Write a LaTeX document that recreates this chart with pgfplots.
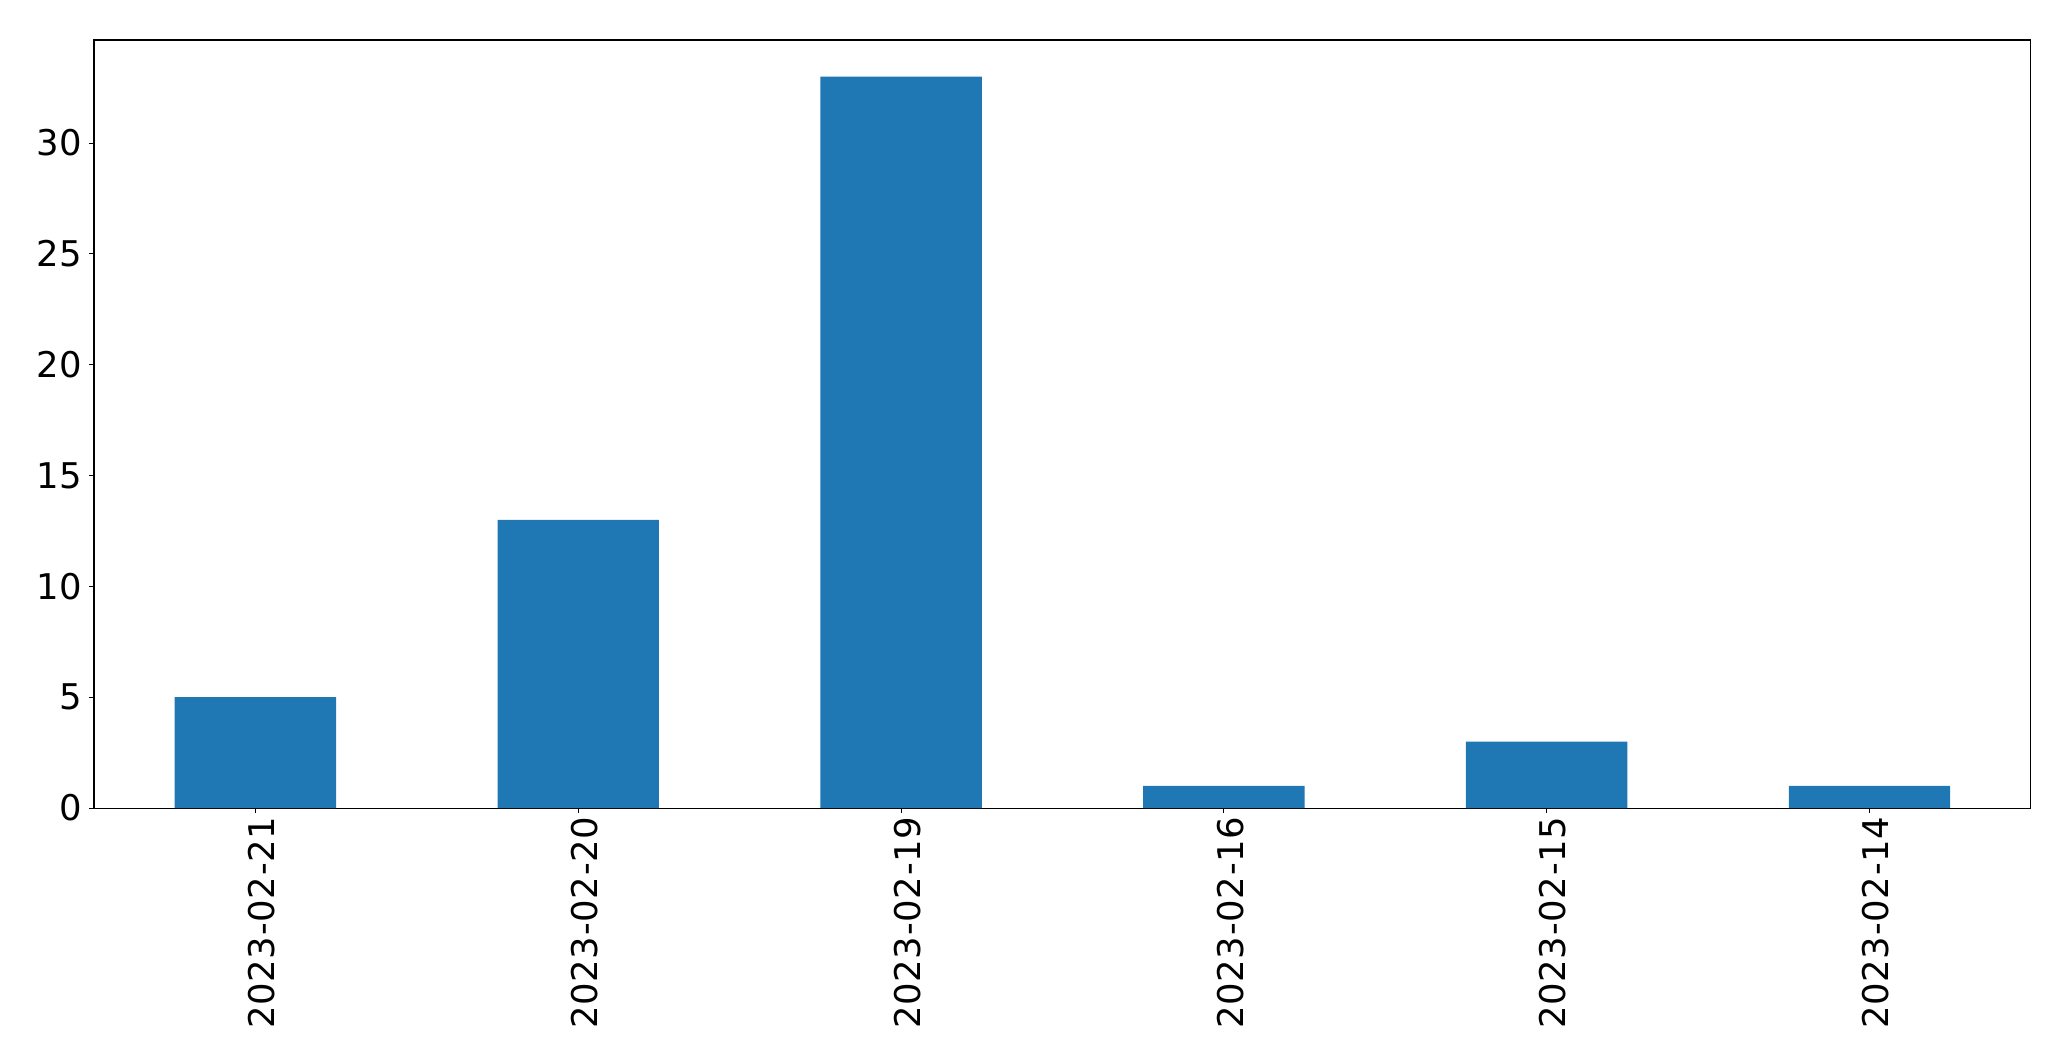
\documentclass[border=0pt]{standalone}
\usepackage{pgfplots}
\pgfplotsset{compat=1.18}
\usepackage{fontspec}
\setmainfont{DejaVu Sans}
\definecolor{mplblue}{HTML}{1F77B4}
\begin{document}
\begin{tikzpicture}
\useasboundingbox (-67.7pt,-182.2pt) rectangle (1423.4pt,581.8pt);
\begin{axis}[
  at={(0,0)}, anchor=south west,
  scale only axis,
  width=1394.6pt, height=553pt,
  xmin=-0.5, xmax=5.5, ymin=0, ymax=34.65,
  xtick={0,1,2,3,4,5},
  xticklabels={2023-02-21,2023-02-20,2023-02-19,2023-02-16,2023-02-15,2023-02-14},
  ytick={0,5,10,15,20,25,30},
  tick align=outside, tick pos=left,
  major tick length=3.5pt,
  every tick/.style={black, line width=0.8pt},
  axis line style={line width=0.8pt},
  /pgf/number format/assume math mode=true,
  tick label style={font=\fontsize{25.5}{30}\selectfont},
  xticklabel style={font=\fontsize{25.5}{30}\selectfont\addfontfeature{LetterSpace=2},
    rotate=90, anchor=east, inner sep=0pt, xshift=-2.5pt, yshift=-4.5pt},
  yticklabel style={inner sep=0pt, xshift=-5pt},
  ybar, bar width=0.5,
  axis on top=false,
]
\addplot[fill=mplblue, draw=none] coordinates {(0,5) (1,13) (2,33) (3,1) (4,3) (5,1)};
\end{axis}
\end{tikzpicture}
\end{document}
